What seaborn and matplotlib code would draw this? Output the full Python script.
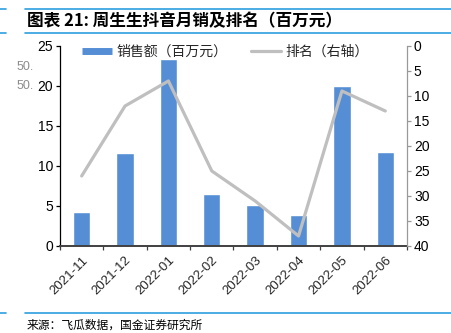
import matplotlib
matplotlib.use("Agg")
import matplotlib.pyplot as plt
from matplotlib.lines import Line2D
import numpy as np
import pandas as pd
import seaborn as sns

months = ["2021-11", "2021-12", "2022-01", "2022-02", "2022-03", "2022-04", "2022-05", "2022-06"]
sales = [4.2, 11.6, 23.4, 6.5, 5.1, 3.9, 20.0, 11.7]   # 销售额（百万元）
rank = [26, 12, 7, 25, 31, 38, 9, 13]                  # 排名（右轴）

title = "图表 21: 周生生抖音月销及排名（百万元）"
source = "来源：飞瓜数据，国金证券研究所"

sns.set_theme(style="white")
plt.rcParams["font.family"] = ["Noto Sans CJK SC", "DejaVu Sans"]
plt.rcParams["axes.unicode_minus"] = False

BLUE = "#558ED5"
GREY = "#BFBFBF"
RULE = "#2C9FE0"

df = pd.DataFrame({"month": months, "sales": sales, "rank": rank, "pos": np.arange(len(months))})

fig = plt.figure(figsize=(4.52, 3.33), dpi=100)
ax = fig.add_axes([0.1327, 0.2613, 0.7677, 0.6006])

sns.barplot(data=df, x="month", y="sales", color=BLUE, saturation=1, width=0.4, ax=ax)
ax.set_xlim(-0.5, len(months) - 0.5)
ax.set_ylim(0, 25)
ax.set_yticks(np.arange(0, 26, 5))
ax.set_xlabel("")
ax.set_ylabel("")

ax2 = ax.twinx()
sns.lineplot(data=df, x="pos", y="rank", color=GREY, linewidth=2.3, ax=ax2, legend=False)
ax2.set_ylim(40, 0)
ax2.set_yticks(np.arange(0, 41, 5))
ax2.set_ylabel("")
ax2.set_xlim(-0.5, len(months) - 0.5)

# spines and ticks
for a in (ax, ax2):
    for s in a.spines.values():
        s.set_visible(False)
ax.spines["left"].set_visible(True)
ax.spines["left"].set_color("#000000")
ax.spines["left"].set_linewidth(0.9)
ax.spines["bottom"].set_visible(True)
ax.spines["bottom"].set_color("#404040")
ax.spines["bottom"].set_linewidth(1.4)
ax2.spines["right"].set_visible(True)
ax2.spines["right"].set_color("#999999")
ax2.spines["right"].set_linewidth(0.9)

ax.tick_params(axis="y", direction="out", length=3, width=0.9, color="#000000",
               labelsize=10, pad=2, left=True, labelcolor="#000000")
ax2.tick_params(axis="y", direction="out", length=3, width=0.9, color="#999999",
                labelsize=10, pad=2, right=True, labelcolor="#000000")

ax.set_xticks(np.arange(len(months)))
ax.set_xticklabels(months, rotation=45, ha="right", rotation_mode="anchor", fontsize=9.5,
                   family=["Liberation Sans", "DejaVu Sans"])
ax.tick_params(axis="x", which="major", length=0, pad=6)
ax.set_xticks(np.arange(-0.5, len(months), 1.0), minor=True)
ax.tick_params(axis="x", which="minor", direction="out", length=3, width=0.9,
               color="#404040", bottom=True)
for lab in ax.get_yticklabels() + ax2.get_yticklabels():
    lab.set_family(["Liberation Sans", "DejaVu Sans"])

handles = [
    Line2D([], [], color=BLUE, linewidth=5, solid_capstyle="butt"),
    Line2D([], [], color=GREY, linewidth=2.3),
]
ax2.legend(handles, ["销售额（百万元）", "排名（右轴）"], loc="center",
           bbox_to_anchor=(0.477, 0.97), ncol=2, frameon=False, fontsize=10,
           handlelength=2.15, handletextpad=0.36, columnspacing=1.65,
           borderpad=0, borderaxespad=0)

# side marks next to the left axis
fig.text(17 / 452, 1 - 67 / 333, "50.", fontsize=9, color="#8C8C8C", va="center",
         family=["Liberation Sans", "DejaVu Sans"])
fig.text(17 / 452, 1 - 86 / 333, "50.", fontsize=9, color="#8C8C8C", va="center",
         family=["Liberation Sans", "DejaVu Sans"])

# header and footer rules
for y in (1 - 9 / 333, 1 - 33 / 333, 1 - 313 / 333):
    fig.add_artist(Line2D([0, 6 / 452], [y, y], transform=fig.transFigure, color=RULE, linewidth=1.2))
    fig.add_artist(Line2D([25 / 452, 1], [y, y], transform=fig.transFigure, color=RULE, linewidth=1.2))

fig.text(27 / 452, 1 - 21 / 333, title, fontsize=12, fontweight="bold", va="center", color="#000000")
fig.text(27 / 452, 1 - 325 / 333, source, fontsize=8.5, va="center", color="#000000")

fig.savefig("out.png", dpi=100)
